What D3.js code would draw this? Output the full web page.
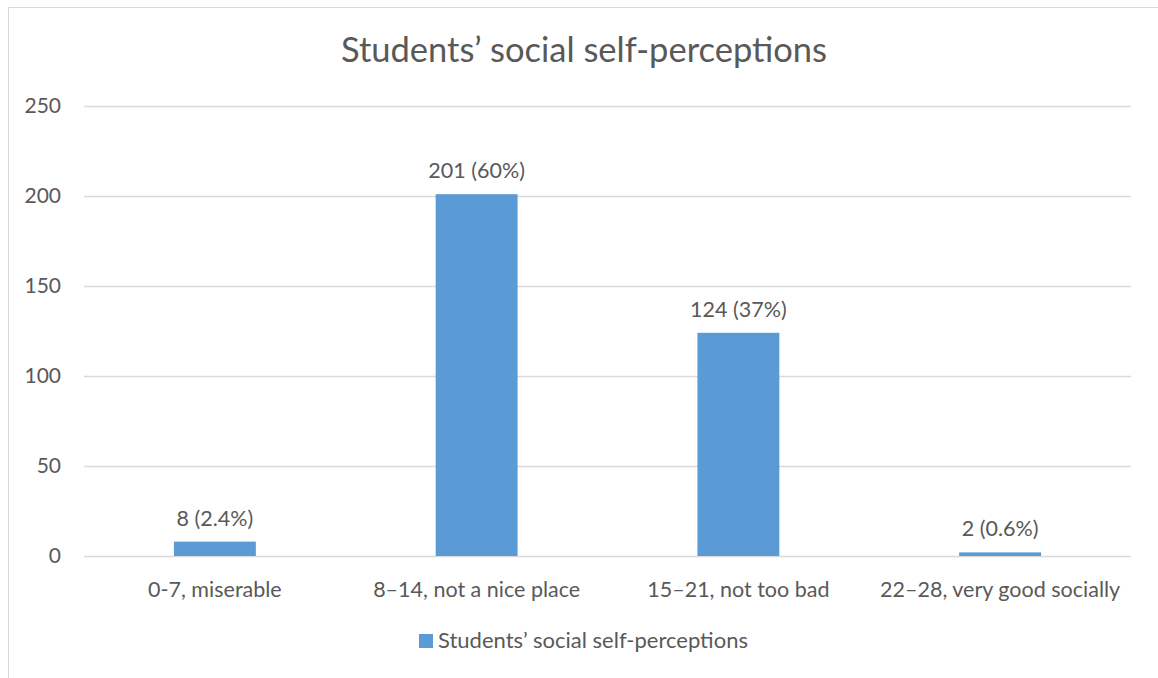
<!DOCTYPE html>
<html>
<head>
<meta charset="utf-8">
<script src="https://cdn.jsdelivr.net/npm/d3@7"></script>
<style>
  body { margin: 0; background: #fff; }
  svg text { font-family: Lato, "Open Sans", sans-serif; fill: #595959; }
</style>
</head>
<body>
<svg id="chart" width="1158" height="678"></svg>
<script>
const categories = ["0-7, miserable", "8–14, not a nice place", "15–21, not too bad", "22–28, very good socially"];
const counts = [8, 201, 124, 2];
const labels = ["8 (2.4%)", "201 (60%)", "124 (37%)", "2 (0.6%)"];
const yTicks = [0, 50, 100, 150, 200, 250];
const seriesName = "Students’ social self-perceptions";

(() => {
  const width = 1158;
  const height = 678;
  const margin = { top: 106, right: 27, bottom: 122, left: 84 };
  const innerWidth = width - margin.left - margin.right;
  const innerHeight = height - margin.top - margin.bottom;
  const BAR = "#5b9bd5";

  const svg = d3.select("#chart");

  // chart area border
  svg.append("rect")
    .attr("x", 8.5).attr("y", 7.5)
    .attr("width", width).attr("height", height)
    .attr("fill", "none")
    .attr("stroke", "#d9d9d9");

  const g = svg.append("g")
    .attr("transform", `translate(${margin.left}, ${margin.top})`);

  const x = d3.scaleBand()
    .domain(categories)
    .range([0, innerWidth])
    .paddingInner(0.687)
    .paddingOuter(0.3435);

  const y = d3.scaleLinear()
    .domain([0, 250])
    .range([innerHeight, 0]);

  // gridlines
  g.selectAll(".grid")
    .data(yTicks)
    .join("line")
    .attr("class", "grid")
    .attr("x1", 0).attr("x2", innerWidth)
    .attr("y1", d => Math.round(y(d)) + 0.5)
    .attr("y2", d => Math.round(y(d)) + 0.5)
    .attr("stroke", "#d9d9d9")
    .attr("stroke-width", 1.3);

  const yAxis = g.append("g")
    .call(d3.axisLeft(y).tickValues(yTicks).tickSize(0).tickPadding(23));
  yAxis.select(".domain").remove();
  yAxis.selectAll("text")
    .style("font-size", "21px")
    .attr("fill", "#595959");

  const xAxis = g.append("g")
    .attr("transform", `translate(0, ${innerHeight})`)
    .call(d3.axisBottom(x).tickSize(0).tickPadding(25.5));
  xAxis.select(".domain").remove();
  xAxis.selectAll("text")
    .style("font-size", "21.5px")
    .attr("fill", "#595959");

  g.selectAll(".bar")
    .data(counts)
    .join("rect")
    .attr("class", "bar")
    .attr("x", (d, i) => x(categories[i]))
    .attr("y", d => y(d))
    .attr("width", x.bandwidth())
    .attr("height", d => innerHeight - y(d))
    .attr("fill", BAR);

  g.selectAll(".val")
    .data(counts)
    .join("text")
    .attr("class", "val")
    .attr("x", (d, i) => x(categories[i]) + x.bandwidth() / 2)
    .attr("y", d => y(d) - 16)
    .attr("text-anchor", "middle")
    .style("font-size", "21.5px")
    .text((d, i) => labels[i]);

  // title
  svg.append("text")
    .attr("x", 584)
    .attr("y", 62)
    .attr("text-anchor", "middle")
    .style("font-size", "34.5px")
    .text(seriesName);

  // legend
  const legend = svg.append("g").attr("transform", "translate(419, 634)");
  legend.append("rect")
    .attr("width", 14).attr("height", 14)
    .attr("fill", BAR);
  legend.append("text")
    .attr("x", 19)
    .attr("y", 13.5)
    .style("font-size", "22px")
    .text(seriesName);
})();
</script>
</body>
</html>
